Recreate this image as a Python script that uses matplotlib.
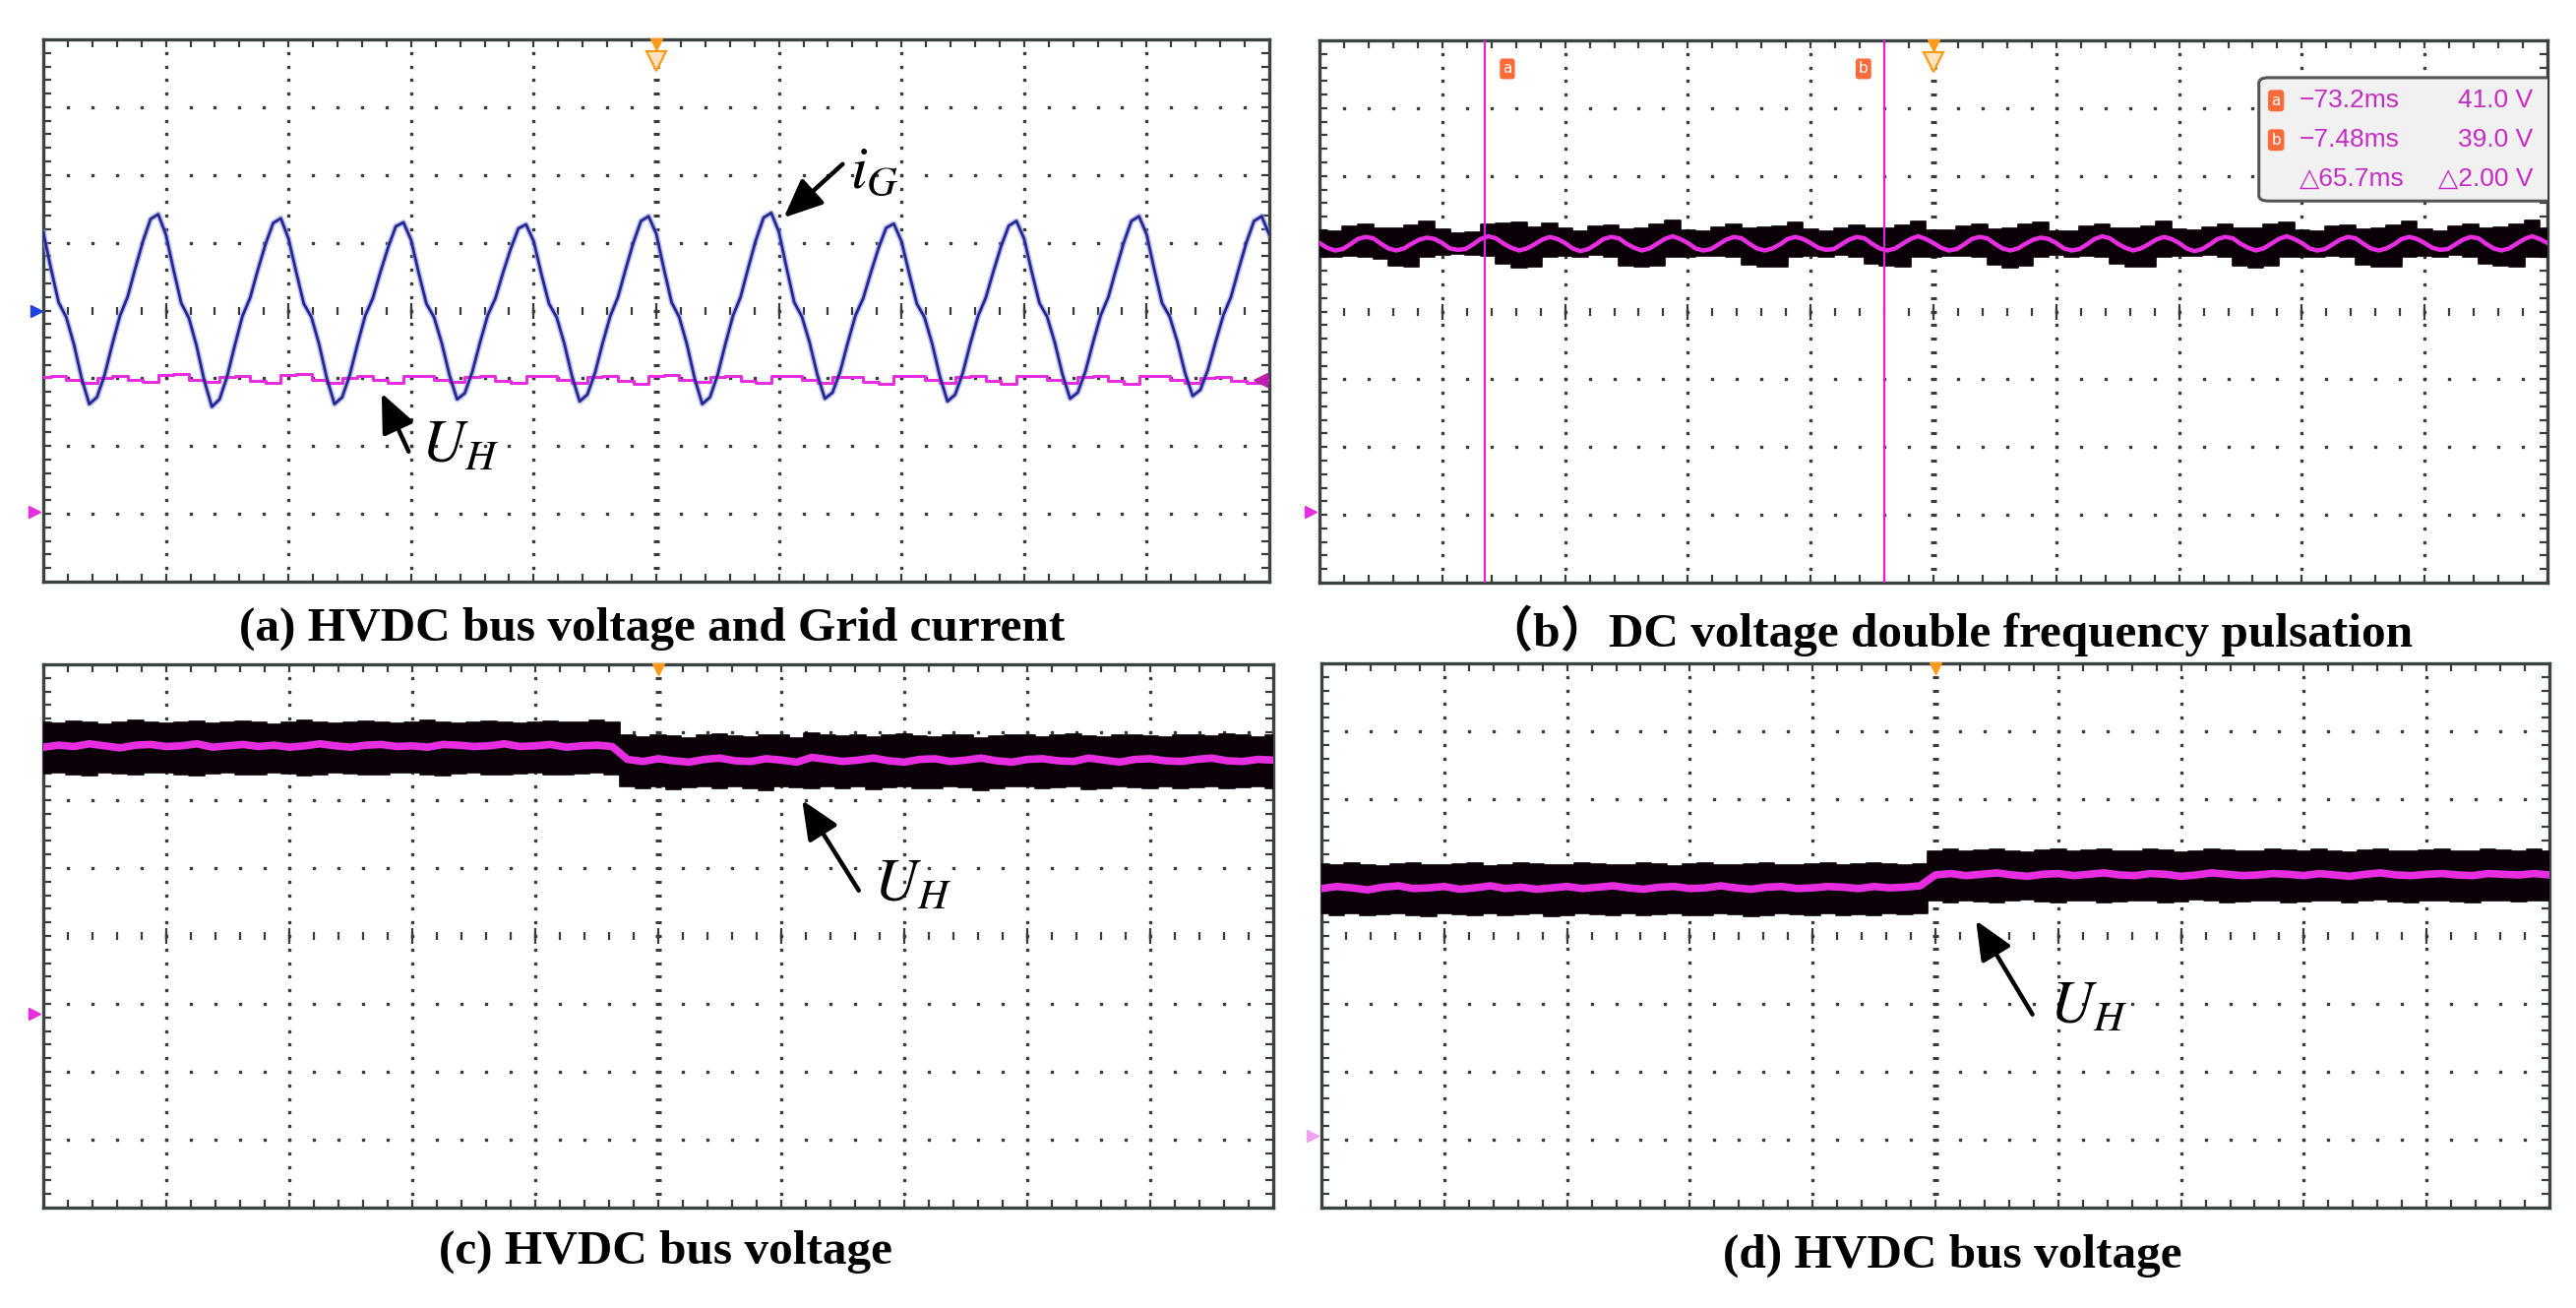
import matplotlib
matplotlib.use("Agg")
import matplotlib.pyplot
import matplotlib.patches
import numpy

# all x values are in scope divisions (0..10), y values in divisions (-4..4)
panel_titles = [
	"(a) HVDC bus voltage and Grid current",
	"\uff08b\uff09DC voltage double frequency pulsation",
	"(c) HVDC bus voltage",
	"(d) HVDC bus voltage",
]

# (a) grid current, one sample every 1/16 division
grid_current_step = 0.0625
grid_current_a = [
	1.15, 0.62, 0.12, -0.10, -0.50, -1.00, -1.38, -1.28, -0.95, -0.50, -0.08, 0.20, 0.62, 1.02, 1.35, 1.42,
	1.12, 0.60, 0.11, -0.11, -0.52, -1.03, -1.42, -1.31, -0.97, -0.51, -0.08, 0.19, 0.60, 0.98, 1.29, 1.36,
	1.06, 0.57, 0.10, -0.10, -0.50, -1.00, -1.38, -1.28, -0.95, -0.50, -0.08, 0.18, 0.57, 0.93, 1.24, 1.30,
	1.04, 0.55, 0.10, -0.10, -0.48, -0.95, -1.31, -1.22, -0.90, -0.47, -0.07, 0.18, 0.56, 0.91, 1.21, 1.27,
	1.02, 0.54, 0.10, -0.10, -0.49, -0.97, -1.34, -1.24, -0.92, -0.48, -0.08, 0.20, 0.61, 1.00, 1.32, 1.39,
	1.13, 0.61, 0.12, -0.10, -0.50, -1.00, -1.38, -1.28, -0.95, -0.50, -0.08, 0.20, 0.63, 1.04, 1.37, 1.44,
	1.16, 0.63, 0.12, -0.09, -0.47, -0.94, -1.30, -1.21, -0.90, -0.47, -0.07, 0.18, 0.56, 0.92, 1.22, 1.28,
	1.02, 0.55, 0.10, -0.10, -0.49, -0.97, -1.34, -1.24, -0.92, -0.48, -0.08, 0.19, 0.58, 0.95, 1.25, 1.32,
	1.06, 0.57, 0.11, -0.09, -0.47, -0.94, -1.30, -1.21, -0.90, -0.47, -0.07, 0.20, 0.61, 1.00, 1.32, 1.39,
	1.12, 0.60, 0.11, -0.09, -0.46, -0.92, -1.26, -1.17, -0.87, -0.46, -0.07, 0.20, 0.61, 1.00, 1.32, 1.39,
	1.12,
]

# (a) bus voltage, one sample every 1/8 division
bus_step = 0.125
bus_voltage_a = [
	-0.98, -0.97, -1.03, -1.06, -0.99, -0.97, -1.03, -1.05,
	-0.95, -0.93, -1.02, -1.05, -0.98, -0.97, -1.04, -1.06,
	-0.95, -0.94, -1.02, -1.06, -0.99, -0.97, -1.03, -1.06,
	-0.96, -0.96, -1.02, -1.05, -0.98, -0.97, -1.04, -1.07,
	-0.97, -0.96, -1.03, -1.06, -0.98, -0.97, -1.04, -1.08,
	-0.96, -0.95, -1.02, -1.05, -0.98, -0.97, -1.04, -1.07,
	-0.97, -0.96, -1.03, -1.06, -0.98, -0.98, -1.05, -1.08,
	-0.97, -0.96, -1.03, -1.06, -0.98, -0.97, -1.04, -1.08,
	-0.97, -0.96, -1.03, -1.06, -0.98, -0.97, -1.04, -1.08,
	-0.97, -0.97, -1.03, -1.06, -0.99, -0.98, -1.04, -1.07,
	-1.02,
]

# (b) filtered DC voltage, one sample every 1/16 division
ripple_step = 0.0625
ripple_b = [
	1.01, 0.94, 0.90, 0.92, 0.99, 1.07, 1.10, 1.08, 1.00, 0.93, 0.90, 0.93, 1.00, 1.06, 1.09, 1.07,
	1.01, 0.93, 0.91, 0.92, 0.99, 1.07, 1.11, 1.08, 1.00, 0.94, 0.90, 0.93, 0.99, 1.06, 1.10, 1.07,
	1.01, 0.93, 0.89, 0.92, 0.99, 1.07, 1.10, 1.08, 1.00, 0.94, 0.90, 0.93, 1.00, 1.07, 1.11, 1.07,
	1.01, 0.93, 0.90, 0.92, 0.99, 1.06, 1.10, 1.08, 1.00, 0.93, 0.90, 0.93, 0.99, 1.07, 1.10, 1.07,
	1.01, 0.94, 0.91, 0.92, 0.99, 1.06, 1.10, 1.08, 1.00, 0.93, 0.90, 0.93, 1.00, 1.07, 1.11, 1.07,
	1.01, 0.94, 0.90, 0.92, 0.99, 1.07, 1.10, 1.08, 1.00, 0.93, 0.90, 0.93, 1.00, 1.06, 1.09, 1.07,
	1.01, 0.93, 0.90, 0.92, 0.99, 1.07, 1.11, 1.08, 1.00, 0.94, 0.90, 0.93, 0.99, 1.06, 1.10, 1.07,
	1.01, 0.93, 0.89, 0.92, 0.99, 1.07, 1.10, 1.08, 1.00, 0.94, 0.90, 0.93, 1.00, 1.07, 1.11, 1.07,
	1.01, 0.93, 0.90, 0.92, 0.99, 1.06, 1.10, 1.08, 1.00, 0.93, 0.90, 0.93, 0.99, 1.07, 1.10, 1.07,
	1.01, 0.94, 0.91, 0.92, 0.99, 1.06, 1.10, 1.08, 1.00, 0.93, 0.90, 0.93, 1.00, 1.07, 1.11, 1.07,
	1.01,
]
band_upper_b = [
	1.20, 1.19, 1.26, 1.28, 1.22, 1.22, 1.27, 1.33,
	1.21, 1.16, 1.17, 1.29, 1.30, 1.31, 1.24, 1.30,
	1.22, 1.19, 1.25, 1.27, 1.21, 1.23, 1.28, 1.34,
	1.20, 1.18, 1.24, 1.29, 1.22, 1.24, 1.26, 1.31,
	1.21, 1.19, 1.23, 1.27, 1.23, 1.22, 1.27, 1.33,
	1.20, 1.20, 1.26, 1.28, 1.21, 1.23, 1.28, 1.32,
	1.19, 1.18, 1.25, 1.29, 1.22, 1.22, 1.26, 1.33,
	1.21, 1.20, 1.24, 1.28, 1.23, 1.23, 1.29, 1.31,
	1.20, 1.19, 1.25, 1.27, 1.21, 1.22, 1.27, 1.33,
	1.21, 1.18, 1.26, 1.28, 1.22, 1.24, 1.28, 1.34,
	1.22,
]
band_lower_b = [
	0.81, 0.81, 0.82, 0.80, 0.77, 0.67, 0.66, 0.80,
	0.83, 0.85, 0.84, 0.82, 0.70, 0.65, 0.66, 0.81,
	0.82, 0.81, 0.83, 0.81, 0.68, 0.66, 0.67, 0.80,
	0.81, 0.82, 0.82, 0.80, 0.69, 0.66, 0.66, 0.81,
	0.82, 0.80, 0.83, 0.81, 0.70, 0.67, 0.66, 0.80,
	0.81, 0.82, 0.82, 0.81, 0.69, 0.65, 0.67, 0.81,
	0.83, 0.81, 0.82, 0.80, 0.70, 0.66, 0.66, 0.80,
	0.82, 0.82, 0.83, 0.81, 0.68, 0.65, 0.67, 0.81,
	0.81, 0.80, 0.82, 0.80, 0.69, 0.66, 0.66, 0.80,
	0.82, 0.81, 0.83, 0.81, 0.70, 0.67, 0.66, 0.81,
	0.80,
]
cursor_positions_b = [1.35, 4.60]
cursor_names_b = ["a", "b"]
cursor_rows_b = [
	["a", "\u221273.2ms", "41.0 V"],
	["b", "\u22127.48ms", "39.0 V"],
	["", "\u25b365.7ms", "\u25b32.00 V"],
]

# (c) bus voltage step down
bus_voltage_c = [
	2.78, 2.81, 2.79, 2.83, 2.80, 2.77, 2.81, 2.82, 2.79, 2.80, 2.83, 2.78, 2.80, 2.82, 2.79, 2.81, 2.78, 2.80, 2.83,
	2.80, 2.78, 2.81, 2.82, 2.79, 2.80, 2.78, 2.82, 2.81, 2.79, 2.80, 2.83, 2.79, 2.80, 2.82, 2.78, 2.80, 2.81, 2.79,
	2.60, 2.57, 2.61, 2.58, 2.56, 2.60, 2.62, 2.58, 2.57, 2.61, 2.59, 2.56, 2.63, 2.60, 2.57, 2.59, 2.62, 2.58, 2.56,
	2.60, 2.61, 2.57, 2.59, 2.62, 2.58, 2.56, 2.60, 2.61, 2.58, 2.57, 2.62, 2.59, 2.56, 2.60, 2.61, 2.58, 2.57, 2.60,
	2.62, 2.58, 2.57, 2.60, 2.59,
]
band_upper_c = [
	3.15, 3.13, 3.16, 3.14, 3.12, 3.15, 3.17, 3.14, 3.13, 3.15, 3.16, 3.13, 3.14, 3.16, 3.15, 3.12, 3.14, 3.17, 3.15,
	3.13, 3.14, 3.16, 3.15, 3.13, 3.15, 3.17, 3.14, 3.13, 3.15, 3.16, 3.14, 3.13, 3.15, 3.16, 3.14, 3.15, 3.17, 3.15,
	2.95, 2.93, 2.96, 2.94, 2.92, 2.95, 2.97, 2.94, 2.93, 2.95, 2.96, 2.92, 2.98, 2.95, 2.94, 2.96, 2.93, 2.95, 2.97,
	2.94, 2.93, 2.96, 2.95, 2.92, 2.94, 2.96, 2.95, 2.93, 2.95, 2.97, 2.94, 2.93, 2.95, 2.96, 2.94, 2.93, 2.96, 2.95,
	2.94, 2.97, 2.95, 2.93, 2.95,
]
band_lower_c = [
	2.39, 2.41, 2.38, 2.36, 2.40, 2.39, 2.37, 2.40, 2.41, 2.38, 2.36, 2.39, 2.40, 2.37, 2.38, 2.41, 2.39, 2.36, 2.38,
	2.40, 2.39, 2.37, 2.38, 2.40, 2.41, 2.38, 2.36, 2.39, 2.40, 2.38, 2.37, 2.39, 2.41, 2.38, 2.37, 2.39, 2.40, 2.38,
	2.21, 2.18, 2.20, 2.16, 2.19, 2.21, 2.17, 2.20, 2.18, 2.15, 2.20, 2.19, 2.17, 2.21, 2.18, 2.20, 2.16, 2.19, 2.21,
	2.18, 2.17, 2.20, 2.19, 2.15, 2.18, 2.20, 2.21, 2.17, 2.19, 2.20, 2.16, 2.18, 2.21, 2.19, 2.17, 2.20, 2.18, 2.19,
	2.21, 2.17, 2.19, 2.20, 2.18,
]

# (d) bus voltage step up
bus_voltage_d = [
	0.69, 0.72, 0.70, 0.67, 0.71, 0.73, 0.69, 0.70, 0.72, 0.68, 0.70, 0.73, 0.69, 0.71, 0.68, 0.70, 0.72, 0.69, 0.71, 0.73,
	0.70, 0.68, 0.71, 0.72, 0.69, 0.70, 0.73, 0.70, 0.68, 0.71, 0.72, 0.69, 0.70, 0.72, 0.71, 0.69, 0.72, 0.70, 0.71, 0.73,
	0.89, 0.91, 0.88, 0.90, 0.92, 0.89, 0.87, 0.90, 0.91, 0.88, 0.90, 0.92, 0.89, 0.88, 0.91, 0.90, 0.87, 0.89, 0.92, 0.90,
	0.88, 0.89, 0.91, 0.90, 0.88, 0.91, 0.89, 0.87, 0.90, 0.92, 0.89, 0.88, 0.90, 0.91, 0.89, 0.88, 0.91, 0.90, 0.89, 0.91,
	0.89,
]
band_upper_d = [
	1.05, 1.03, 1.06, 1.04, 1.02, 1.05, 1.07, 1.04, 1.03, 1.05, 1.06, 1.02, 1.04, 1.06, 1.05, 1.03, 1.04, 1.07, 1.05, 1.03,
	1.04, 1.06, 1.05, 1.02, 1.05, 1.07, 1.04, 1.03, 1.05, 1.06, 1.04, 1.03, 1.05, 1.06, 1.04, 1.05, 1.07, 1.05, 1.04, 1.05,
	1.24, 1.26, 1.23, 1.25, 1.27, 1.24, 1.22, 1.25, 1.26, 1.23, 1.25, 1.27, 1.24, 1.23, 1.26, 1.25, 1.22, 1.24, 1.27, 1.25,
	1.23, 1.24, 1.26, 1.25, 1.23, 1.26, 1.24, 1.22, 1.25, 1.27, 1.24, 1.23, 1.25, 1.26, 1.24, 1.23, 1.26, 1.25, 1.24, 1.26,
	1.24,
]
band_lower_d = [
	0.32, 0.30, 0.33, 0.29, 0.31, 0.33, 0.30, 0.28, 0.32, 0.31, 0.29, 0.33, 0.30, 0.31, 0.32, 0.28, 0.30, 0.33, 0.31, 0.29,
	0.32, 0.30, 0.31, 0.33, 0.29, 0.30, 0.32, 0.31, 0.28, 0.30, 0.33, 0.31, 0.30, 0.32, 0.29, 0.31, 0.30, 0.32, 0.31, 0.33,
	0.51, 0.49, 0.52, 0.50, 0.48, 0.51, 0.53, 0.50, 0.49, 0.52, 0.51, 0.48, 0.50, 0.52, 0.51, 0.49, 0.50, 0.53, 0.51, 0.49,
	0.50, 0.52, 0.51, 0.48, 0.50, 0.52, 0.51, 0.49, 0.51, 0.53, 0.50, 0.49, 0.51, 0.52, 0.50, 0.49, 0.52, 0.51, 0.50, 0.52,
	0.51,
]

PINK = "#e62ee0"
BLUE = "#23278f"
ORANGE = "#ff9a1a"
GRID = "#3a3a3a"


class Main:
	def __init__(self):
		self.width = 2618
		self.height = 1329
		self.figure = None
		self.axes = []

		self.initialize()
		self.visualize()

	def initialize(self):
		matplotlib.pyplot.rcParams["mathtext.fontset"] = "stix"
		self.figure = matplotlib.pyplot.figure(figsize = (self.width / 100, self.height / 100), dpi = 100)
		# panel frames in pixels: left, top, right, bottom
		boxes = [
			(44, 40, 1290, 591),
			(1341, 41, 2589, 592),
			(44, 675, 1294, 1227),
			(1343, 674, 2591, 1227),
		]
		for left, top, right, bottom in boxes:
			axes = self.figure.add_axes([
				left / self.width,
				1 - bottom / self.height,
				(right - left) / self.width,
				(bottom - top) / self.height,
			])
			axes.set_xlim(0, 10)
			axes.set_ylim(-4, 4)
			axes.set_xticks([])
			axes.set_yticks([])
			for spine in axes.spines.values():
				spine.set_linewidth(2.4)
				spine.set_color("#3a4242")
			self.graticule(axes)
			self.axes.append(axes)

	def graticule(self, axes):
		xm = numpy.arange(1, 50) * 0.2
		ym = numpy.arange(1, 40) * 0.2 - 4
		for i in range(1, 10):
			if i != 5:
				axes.plot([i] * len(ym), ym, linestyle = "none", marker = "s", markersize = 1.5, color = GRID, zorder = 1)
		for j in range(-3, 4):
			if j != 0:
				axes.plot(xm, [j] * len(xm), linestyle = "none", marker = "s", markersize = 1.5, color = GRID, zorder = 1)
		# centre cross
		axes.plot(xm, [0] * len(xm), linestyle = "none", marker = "|", markersize = 6, markeredgewidth = 1.6, color = GRID, zorder = 1)
		axes.plot(numpy.arange(1, 10), [0] * 9, linestyle = "none", marker = "|", markersize = 11, markeredgewidth = 1.6, color = GRID, zorder = 1)
		axes.plot([5] * len(ym), ym, linestyle = "none", marker = "_", markersize = 5, markeredgewidth = 2.2, color = GRID, zorder = 1)
		# edge ticks
		for yy in (4, -4):
			axes.plot(xm, [yy] * len(xm), linestyle = "none", marker = "|", markersize = 11, markeredgewidth = 1.6, color = GRID, zorder = 1)
		for xx in (0, 10):
			axes.plot([xx] * len(ym), ym, linestyle = "none", marker = "_", markersize = 11, markeredgewidth = 1.6, color = GRID, zorder = 1)

	def trigger(self, axes, large):
		axes.plot(5, 3.93, marker = "v", markersize = 9, color = ORANGE, clip_on = False, zorder = 6)
		if large:
			axes.plot(5, 3.68, marker = "v", markersize = 14, markerfacecolor = "#ffe2bf", markeredgecolor = ORANGE, markeredgewidth = 1.6, zorder = 6)

	def side_marker(self, axes, y, color):
		axes.plot(-0.07, y, marker = ">", markersize = 9, color = color, clip_on = False, zorder = 6)

	def label(self, axes, text, tail, tip, where):
		axes.annotate(
			"", xy = tip, xytext = tail,
			arrowprops = dict(arrowstyle = "-|>,head_length=0.8,head_width=0.35", color = "black", lw = 3.2, mutation_scale = 30, shrinkA = 0, shrinkB = 0),
			zorder = 8,
		)
		axes.text(where[0], where[1], text, fontsize = 44, color = "black", ha = "left", va = "center", zorder = 8)

	def band(self, axes, upper, lower, middle, step):
		n = min(len(upper), len(lower))
		x = numpy.arange(n) * step
		axes.fill_between(x, numpy.array(lower[:n]), numpy.array(upper[:n]), step = "mid", color = "#0b0008", linewidth = 0, zorder = 3)
		axes.step(x, numpy.array(upper[:n]), where = "mid", color = "#0b0008", linewidth = 1.2, zorder = 3)
		axes.step(x, numpy.array(lower[:n]), where = "mid", color = "#0b0008", linewidth = 1.2, zorder = 3)
		xm = numpy.arange(len(middle)) * step
		axes.plot(xm, middle, color = PINK, linewidth = 5.5, zorder = 4)

	def visualize(self):
		axes_a, axes_b, axes_c, axes_d = self.axes

		# (a)
		x = numpy.arange(len(grid_current_a)) * grid_current_step
		axes_a.plot(x, grid_current_a, color = "#8f97e6", linewidth = 4.2, alpha = 0.6, zorder = 4)
		axes_a.plot(x, grid_current_a, color = BLUE, linewidth = 2.0, zorder = 5)
		x = numpy.arange(len(bus_voltage_a)) * bus_step
		axes_a.plot(x, bus_voltage_a, color = PINK, linewidth = 2.2, drawstyle = "steps-mid", zorder = 4)
		axes_a.plot(-0.06, 0, marker = ">", markersize = 9, color = "#2040e0", clip_on = False, zorder = 6)
		self.side_marker(axes_a, -2.97, PINK)
		axes_a.plot(9.93, -1.02, marker = "<", markersize = 10, color = "#c020b0", zorder = 6)
		self.trigger(axes_a, True)
		self.label(axes_a, r"$i_G$", (6.52, 2.16), (6.04, 1.37), (6.58, 2.05))
		self.label(axes_a, r"$U_H$", (2.98, -2.08), (2.76, -1.22), (3.08, -2.0))

		# (b)
		self.band(axes_b, band_upper_b, band_lower_b, ripple_b, bus_step)
		axes_b.lines[-1].set_xdata(numpy.arange(len(ripple_b)) * ripple_step)
		axes_b.lines[-1].set_linewidth(3.2)
		for position, name in zip(cursor_positions_b, cursor_names_b):
			axes_b.axvline(position, color = "#dd22dd", linewidth = 1.6, zorder = 5)
		axes_b.text(1.53, 3.58, "a", fontsize = 11, color = "white", ha = "center", va = "center", zorder = 6,
			bbox = dict(boxstyle = "round,pad=0.15", fc = "#ff6a3a", ec = "#ff6a3a"))
		axes_b.text(4.43, 3.58, "b", fontsize = 11, color = "white", ha = "center", va = "center", zorder = 6,
			bbox = dict(boxstyle = "round,pad=0.15", fc = "#ff6a3a", ec = "#ff6a3a"))
		self.trigger(axes_b, True)
		self.side_marker(axes_b, -2.95, PINK)
		box = matplotlib.patches.FancyBboxPatch(
			(7.65, 1.63), 2.6, 1.82, boxstyle = "round,pad=0,rounding_size=0.08",
			facecolor = "#f1f1f1", edgecolor = "#555555", linewidth = 2.2, zorder = 7,
		)
		axes_b.add_patch(box)
		for k, (icon, when, value) in enumerate(cursor_rows_b):
			y = 3.11 - k * 0.58
			if icon:
				axes_b.text(7.79, y, icon, fontsize = 11, color = "white", ha = "center", va = "center", zorder = 8,
					bbox = dict(boxstyle = "round,pad=0.18", fc = "#ff6a3a", ec = "#ff6a3a"))
			axes_b.text(7.98, y, when, fontsize = 19, color = "#c72bc7", ha = "left", va = "center",
				family = ["Liberation Sans", "DejaVu Sans"], zorder = 8)
			axes_b.text(9.88, y, value, fontsize = 19, color = "#c72bc7", ha = "right", va = "center",
				family = ["Liberation Sans", "DejaVu Sans"], zorder = 8)

		# (c)
		self.band(axes_c, band_upper_c, band_lower_c, bus_voltage_c, bus_step)
		self.trigger(axes_c, False)
		self.side_marker(axes_c, -1.15, PINK)
		self.label(axes_c, r"$U_H$", (6.63, 0.67), (6.17, 2.0), (6.75, 0.75))

		# (d)
		self.band(axes_d, band_upper_d, band_lower_d, bus_voltage_d, bus_step)
		self.trigger(axes_d, False)
		self.side_marker(axes_d, -2.95, "#f0a0f0")
		self.label(axes_d, r"$U_H$", (5.79, -1.16), (5.33, 0.22), (5.93, -1.05))

		# captions
		places = [(663, 639), (1981, 641), (676, 1272), (1984, 1276)]
		for title, (px, py) in zip(panel_titles, places):
			self.figure.text(px / self.width, 1 - py / self.height, title, fontsize = 35.5, fontweight = "bold",
				family = ["Liberation Serif", "Noto Sans CJK SC"], ha = "center", va = "center")

		self.figure.savefig("out.png", dpi = 100)

if __name__ == "__main__":
	main = Main()
